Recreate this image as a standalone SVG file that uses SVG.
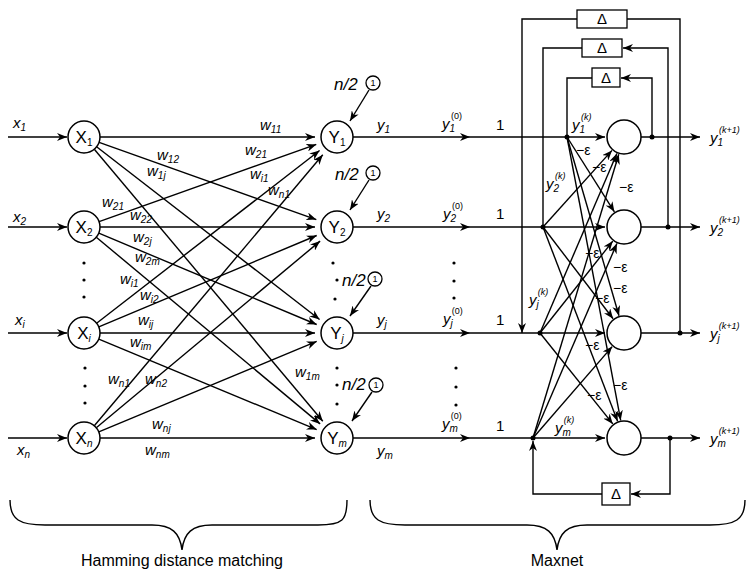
<svg xmlns="http://www.w3.org/2000/svg" width="756" height="571" viewBox="0 0 756 571">
<defs>
<marker id="ar" viewBox="0 0 10 8" refX="10" refY="4" markerWidth="10" markerHeight="8" orient="auto" markerUnits="userSpaceOnUse"><path d="M0,0 L10,4 L0,8 L3,4 z" fill="#000"/></marker>
</defs>
<style>
.ln{stroke:#000;stroke-width:1.4;fill:none}
.a{marker-end:url(#ar)}
.nd{fill:#fff;stroke:#000;stroke-width:1.5}
.bx{fill:#fff;stroke:#000;stroke-width:1.3}
.dt{fill:#000}
text{font-family:"Liberation Sans",Arial,Helvetica,sans-serif;fill:#000}
.it{font-style:italic}
.up{font-style:normal}
.l{font-size:15px}
.s{font-size:10px}
.p{font-size:9px}
.n{font-size:17px}
.e{font-size:14px}
.c1{font-size:9px}
.t{font-size:16px}
</style>
<rect width="756" height="571" fill="#fff"/>

<g id="connectors">
<!-- inputs -->
<line class="ln a" x1="8" y1="137" x2="67" y2="137"/>
<line class="ln a" x1="8" y1="227" x2="67" y2="227"/>
<line class="ln a" x1="8" y1="333" x2="67" y2="333"/>
<line class="ln a" x1="8" y1="438" x2="67" y2="438"/>
<!-- hamming weights -->
<line class="ln a" x1="100" y1="137" x2="315" y2="137"/>
<line class="ln a" x1="99.1" y1="142.4" x2="316.3" y2="219.6"/>
<line class="ln a" x1="96.6" y1="146.8" x2="319.6" y2="319.5"/>
<line class="ln a" x1="94.3" y1="149.2" x2="322.8" y2="421.2"/>
<line class="ln a" x1="99.1" y1="221.6" x2="316.3" y2="144.4"/>
<line class="ln a" x1="100" y1="227" x2="315" y2="227"/>
<line class="ln a" x1="98.8" y1="233.2" x2="316.7" y2="324.5"/>
<line class="ln a" x1="96.3" y1="237.2" x2="320.1" y2="423.9"/>
<line class="ln a" x1="96.6" y1="323.2" x2="319.6" y2="150.5"/>
<line class="ln a" x1="98.8" y1="326.8" x2="316.7" y2="235.5"/>
<line class="ln a" x1="100" y1="333" x2="315" y2="333"/>
<line class="ln a" x1="98.8" y1="339.1" x2="316.7" y2="429.6"/>
<line class="ln a" x1="94.3" y1="425.8" x2="322.8" y2="154.8"/>
<line class="ln a" x1="96.3" y1="427.8" x2="320.1" y2="241.1"/>
<line class="ln a" x1="98.8" y1="431.9" x2="316.7" y2="341.4"/>
<line class="ln a" x1="100" y1="438" x2="315" y2="438"/>
<!-- bias arrows -->
<line class="ln a" x1="369" y1="90" x2="350" y2="121"/>
<line class="ln a" x1="369" y1="180" x2="350" y2="210"/>
<line class="ln a" x1="371" y1="286" x2="350" y2="316"/>
<line class="ln a" x1="372" y1="392" x2="352" y2="421"/>
<!-- Y outputs to maxnet -->
<line class="ln a" x1="353" y1="137" x2="470" y2="137"/>
<line class="ln a" x1="353" y1="227" x2="470" y2="227"/>
<line class="ln a" x1="353" y1="333" x2="470" y2="333"/>
<line class="ln a" x1="353" y1="438" x2="470" y2="438"/>
<line class="ln a" x1="470" y1="137" x2="605" y2="137"/>
<line class="ln a" x1="470" y1="227" x2="605" y2="227"/>
<line class="ln a" x1="470" y1="333" x2="605" y2="333"/>
<line class="ln a" x1="470" y1="438" x2="605" y2="438"/>
<!-- maxnet outputs -->
<line class="ln a" x1="641" y1="137" x2="700" y2="137"/>
<line class="ln a" x1="641" y1="227" x2="700" y2="227"/>
<line class="ln a" x1="641" y1="333" x2="700" y2="333"/>
<line class="ln a" x1="641" y1="438" x2="700" y2="438"/>
<!-- feedback loops -->
<path class="ln a" d="M652,137 V78 H621"/>
<path class="ln" d="M592,78 H567 V137"/>
<path class="ln a" d="M668,227 V48 H623"/>
<path class="ln" d="M582,48 H543 V227"/>
<path class="ln" d="M680,333 V19 H627"/>
<path class="ln a" d="M577,19 H522 V333"/>
<path class="ln a" d="M670,438 V494 H631"/>
<path class="ln a" d="M602,494 H533 V441"/>
<!-- lateral inhibition -->
<line class="ln a" x1="567" y1="137" x2="614.4" y2="211.8"/>
<line class="ln a" x1="567" y1="137" x2="619" y2="315.7"/>
<line class="ln a" x1="567" y1="137" x2="620.7" y2="420.3"/>
<line class="ln a" x1="543" y1="227" x2="612" y2="150.4"/>
<line class="ln a" x1="543" y1="227" x2="613.1" y2="318.7"/>
<line class="ln a" x1="543" y1="227" x2="617.6" y2="421.2"/>
<line class="ln a" x1="540" y1="333" x2="616.9" y2="153.5"/>
<line class="ln a" x1="540" y1="333" x2="612.8" y2="241.1"/>
<line class="ln a" x1="540" y1="333" x2="612.8" y2="423.9"/>
<line class="ln a" x1="533" y1="438" x2="618.8" y2="154.2"/>
<line class="ln a" x1="533" y1="438" x2="616.9" y2="243.5"/>
<line class="ln a" x1="533" y1="438" x2="612.2" y2="346.6"/>
<!-- junction dots -->
<circle class="dt" cx="567" cy="137" r="2.5"/>
<circle class="dt" cx="543" cy="227" r="2.5"/>
<circle class="dt" cx="540" cy="333" r="2.5"/>
<circle class="dt" cx="533" cy="438" r="2.5"/>
<circle class="dt" cx="652" cy="137" r="2.5"/>
<circle class="dt" cx="668" cy="227" r="2.5"/>
<circle class="dt" cx="680" cy="333" r="2.5"/>
<circle class="dt" cx="670" cy="438" r="2.5"/>
</g>

<g id="X1"><circle class="nd" cx="84" cy="137" r="16"/><text class="n" x="84" y="143" text-anchor="middle">X<tspan class="s" dy="3">1</tspan></text></g>
<g id="X2"><circle class="nd" cx="84" cy="227" r="16"/><text class="n" x="84" y="233" text-anchor="middle">X<tspan class="s" dy="3">2</tspan></text></g>
<g id="Xi"><circle class="nd" cx="84" cy="333" r="16"/><text class="n" x="84" y="339" text-anchor="middle">X<tspan class="s it" dy="3">i</tspan></text></g>
<g id="Xn"><circle class="nd" cx="84" cy="438" r="16"/><text class="n" x="84" y="444" text-anchor="middle">X<tspan class="s it" dy="3">n</tspan></text></g>

<g id="Y1"><circle class="nd" cx="337" cy="137" r="16"/><text class="n" x="337" y="143" text-anchor="middle">Y<tspan class="s" dy="3">1</tspan></text></g>
<g id="Y2"><circle class="nd" cx="337" cy="227" r="16"/><text class="n" x="337" y="233" text-anchor="middle">Y<tspan class="s" dy="3">2</tspan></text></g>
<g id="Yj"><circle class="nd" cx="337" cy="333" r="16"/><text class="n" x="337" y="339" text-anchor="middle">Y<tspan class="s it" dy="3">j</tspan></text></g>
<g id="Ym"><circle class="nd" cx="337" cy="438" r="16"/><text class="n" x="337" y="444" text-anchor="middle">Y<tspan class="s it" dy="3">m</tspan></text></g>

<g id="B1"><circle class="bx" cx="373" cy="83" r="7"/><text class="c1" x="373" y="86.3" text-anchor="middle">1</text></g>
<g id="B2"><circle class="bx" cx="373" cy="173" r="7"/><text class="c1" x="373" y="176.3" text-anchor="middle">1</text></g>
<g id="Bj"><circle class="bx" cx="375" cy="279" r="7"/><text class="c1" x="375" y="282.3" text-anchor="middle">1</text></g>
<g id="Bm"><circle class="bx" cx="376" cy="385" r="7"/><text class="c1" x="376" y="388.3" text-anchor="middle">1</text></g>

<g id="M1"><circle class="nd" cx="624" cy="137" r="17"/></g>
<g id="M2"><circle class="nd" cx="624" cy="227" r="17"/></g>
<g id="Mj"><circle class="nd" cx="624" cy="333" r="17"/></g>
<g id="Mm"><circle class="nd" cx="624" cy="438" r="17"/></g>

<g id="D1"><rect class="bx" x="592" y="68" width="28" height="19"/><text class="l" x="606" y="83" text-anchor="middle">Δ</text></g>
<g id="D2"><rect class="bx" x="582" y="39" width="40" height="18"/><text class="l" x="602" y="53" text-anchor="middle">Δ</text></g>
<g id="Dj"><rect class="bx" x="577" y="10" width="50" height="18"/><text class="l" x="602" y="24" text-anchor="middle">Δ</text></g>
<g id="Dm"><rect class="bx" x="602" y="483" width="28" height="22"/><text class="l" x="616" y="499" text-anchor="middle">Δ</text></g>

<g id="labels">
<!-- column dots -->
<circle class="dt" cx="84" cy="263" r="1.6"/><circle class="dt" cx="84" cy="280" r="1.6"/><circle class="dt" cx="84" cy="297" r="1.6"/>
<circle class="dt" cx="85" cy="368" r="1.6"/><circle class="dt" cx="85" cy="386" r="1.6"/><circle class="dt" cx="85" cy="403" r="1.6"/>
<circle class="dt" cx="333" cy="263" r="1.6"/><circle class="dt" cx="337" cy="280" r="1.6"/><circle class="dt" cx="335" cy="299" r="1.6"/>
<circle class="dt" cx="337" cy="368" r="1.6"/><circle class="dt" cx="337" cy="385" r="1.6"/><circle class="dt" cx="337" cy="404" r="1.6"/>
<circle class="dt" cx="454" cy="263" r="1.6"/><circle class="dt" cx="454" cy="281" r="1.6"/><circle class="dt" cx="454" cy="298" r="1.6"/>
<circle class="dt" cx="456" cy="368" r="1.6"/><circle class="dt" cx="456" cy="387" r="1.6"/><circle class="dt" cx="456" cy="405" r="1.6"/>

<text class="it l" x="13" y="128">x<tspan class="s" dy="3">1</tspan></text>
<text class="it l" x="13" y="222">x<tspan class="s" dy="3">2</tspan></text>
<text class="it l" x="15" y="325">x<tspan class="s" dy="3">i</tspan></text>
<text class="it l" x="17" y="455">x<tspan class="s" dy="3">n</tspan></text>

<text class="it l" x="260" y="130">w<tspan class="s" dy="3">11</tspan></text>
<text class="it l" x="157" y="160">w<tspan class="s" dy="3">12</tspan></text>
<text class="it l" x="147" y="176">w<tspan class="s" dy="3">1j</tspan></text>
<text class="it l" x="102" y="207">w<tspan class="s" dy="3">21</tspan></text>
<text class="it l" x="130" y="220">w<tspan class="s" dy="3">22</tspan></text>
<text class="it l" x="133" y="242">w<tspan class="s" dy="3">2j</tspan></text>
<text class="it l" x="135" y="262">w<tspan class="s" dy="3">2m</tspan></text>
<text class="it l" x="245" y="155">w<tspan class="s" dy="3">21</tspan></text>
<text class="it l" x="250" y="179">w<tspan class="s" dy="3">i1</tspan></text>
<text class="it l" x="268" y="195">w<tspan class="s" dy="3">n1</tspan></text>
<text class="it l" x="120" y="284">w<tspan class="s" dy="3">i1</tspan></text>
<text class="it l" x="140" y="300">w<tspan class="s" dy="3">i2</tspan></text>
<text class="it l" x="138" y="325">w<tspan class="s" dy="3">ij</tspan></text>
<text class="it l" x="130" y="347">w<tspan class="s" dy="3">im</tspan></text>
<text class="it l" x="108" y="384">w<tspan class="s" dy="3">n1</tspan></text>
<text class="it l" x="145" y="384">w<tspan class="s" dy="3">n2</tspan></text>
<text class="it l" x="152" y="429">w<tspan class="s" dy="3">nj</tspan></text>
<text class="it l" x="145" y="455">w<tspan class="s" dy="3">nm</tspan></text>
<text class="it l" x="295" y="377">w<tspan class="s" dy="3">1m</tspan></text>

<text class="it n" x="334" y="90">n/2</text>
<text class="it n" x="335" y="180">n/2</text>
<text class="it n" x="342" y="286">n/2</text>
<text class="it n" x="342" y="390">n/2</text>

<text class="it l" x="377" y="130">y<tspan class="s" dy="3">1</tspan></text>
<text class="it l" x="377" y="219">y<tspan class="s" dy="3">2</tspan></text>
<text class="it l" x="377" y="325">y<tspan class="s" dy="3">j</tspan></text>
<text class="it l" x="377" y="456">y<tspan class="s" dy="3">m</tspan></text>

<text class="it l" x="442" y="129">y<tspan class="s" dy="3">1</tspan><tspan class="p up" dx="-4" dy="-13">(0)</tspan></text>
<text class="it l" x="443" y="219">y<tspan class="s" dy="3">2</tspan><tspan class="p up" dx="-4" dy="-13">(0)</tspan></text>
<text class="it l" x="443" y="324">y<tspan class="s" dy="3">j</tspan><tspan class="p up" dx="-1" dy="-13">(0)</tspan></text>
<text class="it l" x="442" y="429">y<tspan class="s" dy="3">m</tspan><tspan class="p up" dx="-7" dy="-13">(0)</tspan></text>

<text class="l" x="496" y="130">1</text>
<text class="l" x="496" y="219">1</text>
<text class="l" x="496" y="325">1</text>
<text class="l" x="496" y="431">1</text>

<text class="it l" x="572" y="130">y<tspan class="s" dy="3">1</tspan><tspan class="p" dx="-4" dy="-13">(k)</tspan></text>
<text class="it l" x="546" y="189">y<tspan class="s" dy="3">2</tspan><tspan class="p" dx="-4" dy="-13">(k)</tspan></text>
<text class="it l" x="529" y="305">y<tspan class="s" dy="3">j</tspan><tspan class="p" dx="-1" dy="-13">(k)</tspan></text>
<text class="it l" x="555" y="433">y<tspan class="s" dy="3">m</tspan><tspan class="p" dx="-7" dy="-13">(k)</tspan></text>

<text class="it l" x="710" y="143">y<tspan class="s" dy="3">1</tspan><tspan class="p" dx="-4" dy="-13">(k+1)</tspan></text>
<text class="it l" x="710" y="233">y<tspan class="s" dy="3">2</tspan><tspan class="p" dx="-4" dy="-13">(k+1)</tspan></text>
<text class="it l" x="710" y="339">y<tspan class="s" dy="3">j</tspan><tspan class="p" dx="-1" dy="-13">(k+1)</tspan></text>
<text class="it l" x="710" y="444">y<tspan class="s" dy="3">m</tspan><tspan class="p" dx="-7" dy="-13">(k+1)</tspan></text>

<text class="e" x="576" y="155">−ε</text>
<text class="e" x="592" y="172">−ε</text>
<text class="e" x="619" y="192">−ε</text>
<text class="e" x="585" y="258">−ε</text>
<text class="e" x="613" y="272">−ε</text>
<text class="e" x="613" y="293">−ε</text>
<text class="e" x="595" y="303">−ε</text>
<text class="e" x="585" y="350">−ε</text>
<text class="e" x="613" y="390">−ε</text>
<text class="e" x="587" y="400">−ε</text>

<path class="ln" d="M10,500 C10,520 20,525 45,525 L152,525 C172,525 180,533 182,550 C184,533 192,525 212,525 L318,525 C343,525 347,520 347,500"/>
<path class="ln" d="M370,500 C370,520 380,525 405,525 L527,525 C547,525 555,533 557,550 C559,533 567,525 587,525 L710,525 C735,525 745,520 745,500"/>
<text class="t" x="182" y="566" text-anchor="middle">Hamming distance matching</text>
<text class="t" x="557" y="566" text-anchor="middle">Maxnet</text>
</g>
</svg>
